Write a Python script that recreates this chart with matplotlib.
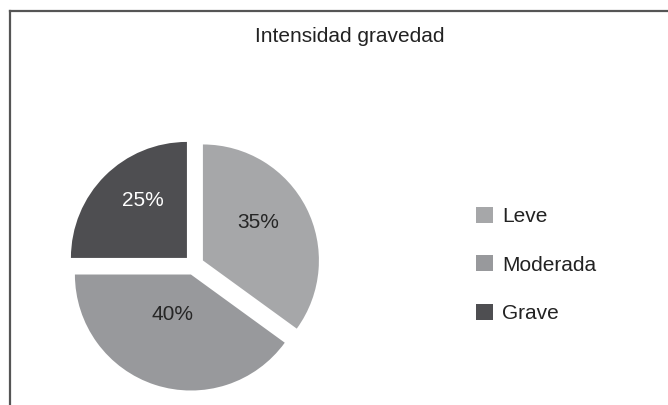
import numpy as np
import matplotlib.pyplot as plt
from matplotlib.lines import Line2D

plt.rcParams['font.family'] = ['Liberation Sans', 'DejaVu Sans']

# data
categorias = ['Leve', 'Moderada', 'Grave']
porcentajes = [35, 40, 25]
titulo = 'Intensidad gravedad'

# style
colores = ['#a6a7a9', '#98999c', '#4e4e51']
color_pct = ['#262626', '#262626', '#ffffff']
# label positions (data units, pie center at 0,0)
pos_pct = [(0.64, 0.425), (-0.22, -0.495), (-0.515, 0.645)]

W, H = 668, 405
fig = plt.figure(figsize=(W / 100, H / 100), dpi=100)
fig.patch.set_facecolor('white')

# pie axes: center at (194, 265) px from top-left, 1 unit = 100 px
cx, cy, half = 194, 265, 140
ax = fig.add_axes([(cx - half) / W, (H - cy - half) / H, 2 * half / W, 2 * half / H])

wedges, texts, autotexts = ax.pie(
    porcentajes, colors=colores, startangle=90, counterclock=False,
    radius=1.16, explode=[0.1] * len(porcentajes),
    autopct='%d%%', pctdistance=0.5,
    textprops={'fontsize': 15},
    wedgeprops={'linewidth': 0},
)
ax.set_xlim(-1.4, 1.4)
ax.set_ylim(-1.4, 1.4)
ax.set_aspect('equal')
ax.axis('off')
for t, p, c in zip(autotexts, pos_pct, color_pct):
    t.set_position(p)
    t.set_color(c)

fig.text(0.5 * (253 + 446) / W, 1 - 37 / H, titulo, ha='center', va='center',
         fontsize=15, color='#222222')

leg = fig.legend(wedges, categorias, loc='center left',
                 bbox_to_anchor=(476 / W, 1 - 265 / H),
                 frameon=False, fontsize=15, handlelength=0.8, handleheight=0.8,
                 handletextpad=0.45, labelspacing=1.39, borderpad=0,
                 borderaxespad=0)
for t in leg.get_texts():
    t.set_color('#222222')

# frame lines (left and top only, as in the source)
fig.add_artist(Line2D([9.5 / W, 9.5 / W], [0, 1 - 10.5 / H],
                      transform=fig.transFigure, color='#555555', lw=1.6))
fig.add_artist(Line2D([9.5 / W, 1], [1 - 10.5 / H, 1 - 10.5 / H],
                      transform=fig.transFigure, color='#555555', lw=1.6))

fig.savefig('out.png', dpi=100)
